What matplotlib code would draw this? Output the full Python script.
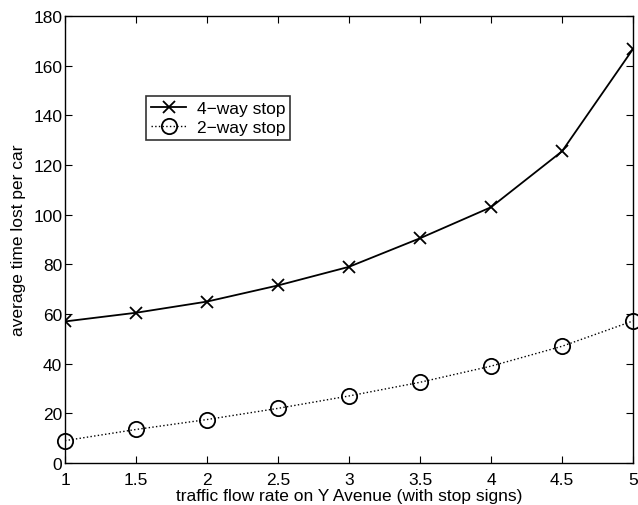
import matplotlib.pyplot as plt

plt.rcParams['font.family'] = ['Liberation Sans', 'DejaVu Sans']

flow = [1, 1.5, 2, 2.5, 3, 3.5, 4, 4.5, 5]
four_way = [57, 60.5, 65, 71.5, 79, 90.5, 103, 125.5, 166.7]
two_way = [9, 13.5, 17.5, 22, 27, 32.5, 39, 47, 57.2]

fig = plt.figure(figsize=(6.38, 5.06), dpi=100)
ax = fig.add_axes([65 / 638, 42 / 506, 568 / 638, 447 / 506])

ax.plot(flow, four_way, color='black', linestyle='-', linewidth=1.3,
        marker='x', markersize=8, markeredgewidth=1.3, label='4\u2212way stop')
ax.plot(flow, two_way, color='black', linestyle=':', linewidth=1.0,
        marker='o', markersize=11, markerfacecolor='none', markeredgewidth=1.3,
        label='2\u2212way stop', clip_on=False)

ax.set_xlim(1, 5)
ax.set_ylim(0, 180)
ax.set_xticks([1, 1.5, 2, 2.5, 3, 3.5, 4, 4.5, 5])
ax.set_xticklabels(['1', '1.5', '2', '2.5', '3', '3.5', '4', '4.5', '5'])
ax.set_yticks(range(0, 181, 20))
ax.tick_params(direction='in', top=True, right=True, labelsize=12.5, length=5)
ax.tick_params(axis='x', pad=6.5)
ax.tick_params(axis='y', pad=2)
for s in ax.spines.values():
    s.set_linewidth(1.0)

ax.set_xlabel('traffic flow rate on Y Avenue (with stop signs)', fontsize=12.5)
ax.xaxis.set_label_coords(0.5, -0.055)
ax.set_ylabel('average time lost per car', fontsize=12.5, labelpad=5)

leg = ax.legend(loc='upper left', bbox_to_anchor=(0.143, 0.821), fontsize=12.5,
                frameon=True, fancybox=False, edgecolor='black', borderpad=0.3,
                handlelength=2.0, labelspacing=0.2, borderaxespad=0, handletextpad=0.6)
leg.get_frame().set_linewidth(1.2)

fig.savefig('out.png', dpi=100)
